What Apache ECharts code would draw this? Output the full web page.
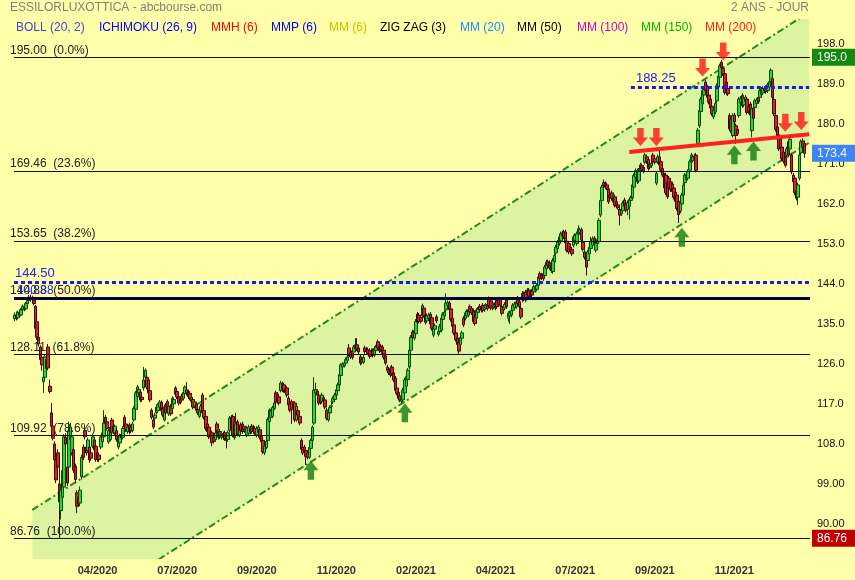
<!DOCTYPE html>
<html><head><meta charset="utf-8">
<script src="https://cdn.jsdelivr.net/npm/echarts@6/dist/echarts.min.js"></script>
<style>html,body{margin:0;padding:0;background:#FFFFAA}#c{width:855px;height:580px}</style>
</head><body><div id="c"></div>
<script>
// [open, close, low, high]
const seg1 = [
[136.2,137.0,135.6,137.6],[137.0,136.4,135.8,137.8],[136.4,137.6,136.0,138.0],[137.5,137.0,136.5,137.9],[137.0,138.2,136.7,138.6],[138.2,139.0,137.8,139.4],[138.8,138.4,137.9,139.2],[138.4,139.6,138.1,140.0],[139.6,140.3,139.2,140.8],[140.3,141.0,139.9,141.5],
[141.0,140.6,140.0,141.6],[140.6,140.9,140.1,141.4],[140.4,139.6,139.2,140.8],[139.0,134.0,133.6,139.3],[135.5,132.0,131.4,135.8],[132.0,130.5,129.9,132.5],[129.8,127.0,126.5,130.2],[127.5,125.8,124.5,127.9],[122.0,123.0,119.5,123.6],[123.0,127.6,122.6,128.0],
[125.0,127.0,124.6,127.6],[129.8,125.1,124.6,130.5],[121.0,119.8,119.3,122.5],[115.0,112.0,111.5,117.2],[112.0,109.3,108.8,112.6],[108.0,104.4,103.8,108.6],[104.4,99.9,99.2,105.0],[106.0,102.8,101.0,106.8],[99.0,95.0,86.8,103.0],[93.0,97.6,91.0,98.2],
[96.0,102.0,94.5,104.0],[98.3,109.6,97.5,110.2],[109.5,108.0,107.2,110.4],[102.8,99.2,98.5,103.6],[102.8,111.0,102.0,113.0],[109.0,111.8,108.4,112.8],[106.0,109.6,105.4,110.2],[106.7,102.1,101.5,107.2],[103.0,100.0,99.2,103.6],[97.0,94.0,92.5,97.6],
[96.0,94.5,93.8,96.8],[94.7,97.6,94.0,98.4],[100.6,105.0,100.0,105.6],[107.3,105.0,104.4,107.9],[111.0,109.6,109.0,112.0],[107.3,106.0,105.4,107.8],[106.5,108.9,106.0,109.4],[107.3,104.4,103.8,107.8],[106.0,104.8,104.2,106.6],[107.5,109.6,107.0,110.2],
[108.9,106.7,106.2,109.4],[107.5,104.5,104.0,108.0],[106.0,104.6,104.0,106.5],[105.5,104.5,103.9,106.0],[107.3,109.6,106.8,110.0],[108.5,110.5,108.0,111.0],[109.6,112.7,109.2,115.6],[114.0,112.7,112.2,114.5],[113.0,111.5,111.0,113.5],[108.5,111.0,108.0,111.4],
[109.0,111.8,108.6,112.3],[113.4,110.5,110.0,113.9],[112.0,110.8,110.2,112.5],[110.5,112.0,110.0,112.4],[111.0,109.0,108.5,111.5],[107.3,108.9,106.8,109.3],[108.2,109.8,107.8,110.3],[110.2,109.4,108.9,110.8],[109.5,111.5,109.0,112.0],[114.0,111.8,111.3,114.5],
[112.5,111.2,110.7,113.0],[110.8,111.8,110.3,112.2],[112.3,110.7,110.2,112.8],[111.8,110.9,110.4,112.3],[111.0,112.5,110.6,113.0],[113.4,116.0,113.0,116.5],[115.8,119.5,115.3,119.9],[118.6,120.8,118.2,121.3],[119.5,120.3,119.0,120.9],[119.7,117.9,117.4,120.2],
[118.5,118.0,117.5,119.0],[120.6,122.4,120.0,125.3],[123.0,124.6,122.6,125.0],[123.0,120.8,120.3,123.5],[122.4,119.5,119.0,122.8],[120.0,117.9,117.4,120.5],[115.6,114.0,113.5,116.0],[113.4,111.8,111.3,113.9],[113.8,114.5,113.2,115.0],[115.0,116.3,114.6,116.8],
[115.5,116.8,115.0,117.2],[116.3,117.4,115.9,117.9],[117.4,115.5,115.0,117.8],[116.0,114.5,114.0,116.5],[113.4,116.3,113.0,116.7],[116.8,115.0,114.5,117.2],[117.5,115.2,114.8,118.0],[114.8,116.5,114.3,117.0],[116.5,114.8,114.3,117.0],[116.0,118.3,115.6,118.7]
];
const seg2 = [
[117.0,118.0,116.6,118.5],[120.6,119.2,118.7,121.0],[119.8,118.6,118.1,120.3],[118.6,117.2,116.7,119.1],[118.2,117.4,116.9,118.7],[118.8,117.9,117.4,119.3],[118.3,119.6,117.8,120.0],[119.3,120.8,118.9,121.2],[120.2,119.4,118.9,121.9],[119.7,118.6,118.1,120.2],
[119.4,118.3,117.8,119.9],[117.5,118.4,117.0,118.9],[118.0,116.3,115.8,118.5],[116.5,117.5,116.0,117.9],[117.0,115.6,115.1,117.5],[115.8,115.0,114.5,116.3],[114.2,115.6,113.8,116.0],[115.4,116.5,115.0,117.0],[119.0,115.0,114.5,119.5],[115.5,114.0,113.5,116.0],
[114.2,111.5,111.0,114.6],[112.5,110.8,110.3,113.0],[111.8,109.6,109.1,112.3],[110.2,109.5,109.0,110.7],[110.5,108.3,107.5,111.0],[109.5,108.6,108.1,110.0],[109.0,110.5,108.6,111.0],[112.5,111.0,110.5,113.0],[109.5,111.2,109.0,111.7],[110.8,109.6,109.1,111.3],
[109.5,110.2,109.0,110.7],[109.4,110.3,108.9,110.8],[110.5,109.2,108.7,111.0],[110.0,108.8,107.0,110.5],[109.0,110.5,108.5,111.0],[111.0,113.8,110.6,114.3],[114.0,111.2,110.7,114.5],[114.2,110.0,109.5,114.6],[113.0,109.5,109.0,113.4],[110.0,112.5,109.5,115.0],
[113.0,110.2,109.7,113.5],[110.0,111.0,109.5,111.5],[112.3,111.0,110.5,112.8],[112.5,110.8,110.3,113.0],[112.0,111.2,110.7,112.5],[110.6,111.5,110.1,112.0],[110.0,111.5,109.5,112.0],[110.4,111.8,110.0,112.3],[111.5,110.7,110.2,112.0],[112.0,110.8,110.3,112.5],
[111.8,110.8,110.3,112.3],[111.5,110.5,110.0,112.0],[110.0,111.5,109.5,112.0],[110.6,111.8,110.1,112.3],[111.2,109.5,109.0,111.7],[109.8,108.5,108.0,110.3],[108.8,106.2,105.7,109.2],[106.0,107.5,105.5,108.0],[107.2,108.6,106.8,109.0],[108.8,113.5,108.4,114.0],
[113.0,115.6,112.6,116.0],[114.0,115.4,113.5,115.9],[114.2,116.2,113.8,116.6],[116.0,117.2,115.6,117.6],[119.5,117.4,116.9,120.0],[119.2,117.6,117.1,119.7],[118.6,117.2,116.7,119.0],[120.0,121.7,119.6,122.2],[121.5,120.2,119.7,122.0],[121.3,120.0,119.5,121.8],
[120.4,119.6,119.1,120.9],[120.6,119.0,118.5,121.0],[118.3,116.8,116.3,118.8],[117.0,115.6,115.1,117.5],[117.5,115.8,112.5,118.0],[117.0,116.0,115.5,117.5],[117.2,113.4,112.9,117.6],[113.4,116.5,113.0,117.0],[115.5,114.5,114.0,116.0],[114.2,112.7,112.2,114.7],
[108.8,106.8,106.3,109.3],[107.2,106.0,105.5,107.7],[107.3,106.2,105.7,107.8],[106.5,105.2,103.3,107.0],[106.0,105.0,104.5,106.5],[105.0,107.2,104.6,107.6],[107.0,108.8,106.6,109.2],[108.8,111.8,108.4,112.2],[112.7,120.1,112.3,123.0],[119.5,120.3,119.0,121.8],
[119.8,119.0,118.5,120.3],[119.0,117.2,116.7,119.5],[118.5,117.4,116.9,119.0],[117.5,119.0,117.0,119.5],[118.4,117.6,117.1,118.9],[117.9,116.3,115.8,118.4],[115.6,113.8,113.3,116.1],[113.4,115.2,113.0,115.7],[115.0,116.2,114.6,116.7],[116.5,116.6,115.0,117.6]
];
const seg3 = [
[117.5,118.2,117.0,118.7],[118.0,119.0,117.6,119.5],[119.0,120.2,118.6,120.7],[120.0,121.3,119.6,121.8],[121.3,123.6,120.9,124.0],[123.4,125.8,123.0,126.2],[125.3,126.0,124.9,126.5],[125.6,126.2,125.2,126.7],[126.2,127.0,125.8,127.5],[126.8,127.6,126.4,128.1],
[129.6,128.2,127.7,130.5],[128.6,127.6,127.1,129.1],[129.0,127.5,127.0,129.5],[128.7,129.8,128.3,130.3],[129.4,130.3,129.0,131.8],[130.3,129.4,128.9,131.8],[129.6,128.7,128.2,130.1],[127.6,126.2,125.7,128.1],[127.0,126.4,125.9,127.5],[126.4,127.5,126.0,128.0],
[129.6,128.8,128.3,130.1],[129.3,128.8,128.3,129.8],[129.2,128.5,128.0,129.7],[129.0,127.7,127.2,129.5],[128.7,129.0,128.2,129.5],[129.0,128.0,127.5,129.5],[128.0,129.5,127.6,130.0],[129.0,129.8,128.6,130.3],[131.0,129.6,129.1,131.5],[130.0,129.0,128.5,130.5],
[130.0,129.2,128.7,130.5],[129.8,128.4,127.9,130.3],[129.1,127.5,127.0,129.6],[127.8,126.2,125.7,128.3],[125.3,124.5,124.0,125.8],[124.8,124.0,123.5,125.3],[125.0,123.5,123.0,125.5],[125.3,123.8,123.3,125.8],[124.0,122.4,121.9,124.5],[122.8,120.1,119.6,123.3],
[120.6,119.4,118.9,121.1],[119.6,118.3,117.8,120.1],[118.8,117.9,117.4,119.3],[117.6,118.6,117.1,119.1],[117.9,120.1,117.4,120.6],[119.5,122.4,119.0,122.9],[121.0,123.2,120.5,123.7],[122.5,124.6,122.0,125.1],[125.3,129.1,124.8,129.6],[129.1,132.0,128.6,132.5],
[133.2,132.0,131.5,133.7],[131.8,133.5,131.3,134.0],[132.8,135.6,132.3,136.1],[137.2,135.4,134.9,137.7],[137.0,135.6,135.1,137.5],[136.5,135.6,135.1,137.0],[136.9,139.1,136.4,139.6],[138.6,136.9,136.4,139.1],[137.0,135.4,134.9,137.5],[135.7,136.9,135.2,137.4],
[136.2,137.0,135.7,137.5],[137.2,135.0,134.5,137.7],[136.4,134.0,133.5,136.9],[132.5,134.4,132.0,134.9],[133.8,134.6,133.3,135.1],[136.6,135.7,135.2,137.1],[132.7,133.3,132.2,133.8],[133.3,134.5,132.8,135.0],[133.6,136.3,133.1,136.8],[136.0,137.2,135.5,137.7],
[136.8,137.6,136.3,138.1],[138.2,139.7,137.7,141.9],[139.2,139.8,138.7,140.3],[139.7,138.2,137.7,140.2],[138.4,136.0,135.5,138.9],[136.3,134.5,134.0,136.8],[134.8,133.0,132.5,135.3],[133.0,131.5,131.0,133.5],[131.8,130.4,129.9,132.3],[130.8,128.9,128.2,131.3],
[130.4,132.0,129.9,132.5],[131.8,133.0,131.3,133.5],[136.3,134.8,134.3,136.8],[136.3,137.5,135.8,138.0],[136.8,137.8,136.3,138.3],[137.0,138.2,136.5,138.7],[138.9,137.7,137.2,139.4],[138.5,137.5,137.0,139.0],[138.0,135.5,135.0,138.5],[136.6,135.1,134.6,137.1],
[136.3,138.1,135.8,138.6],[137.6,138.3,137.1,138.8],[139.0,138.2,137.7,139.5],[138.8,138.1,137.6,139.3],[139.2,138.1,137.6,139.7],[138.2,138.9,137.7,139.4],[138.6,139.2,138.1,139.7],[139.4,138.5,138.0,139.9],[140.7,139.2,138.7,141.2],[140.2,138.6,138.1,140.7]
];
const seg4 = [
[138.6,139.2,138.1,139.7],[138.8,139.3,138.3,139.8],[139.8,138.6,138.1,140.3],[140.3,138.9,138.4,140.8],[140.6,139.4,138.9,141.1],[140.5,139.2,138.7,141.0],[138.9,137.4,136.9,139.4],[138.2,138.9,137.7,139.4],[138.6,139.4,138.1,139.9],[140.4,138.9,138.4,140.9],
[136.3,137.4,135.5,137.9],[136.8,137.5,135.0,138.0],[137.0,138.0,136.5,138.5],[138.1,139.2,137.6,139.7],[138.6,139.5,138.1,140.0],[138.9,140.0,138.4,140.5],[140.4,139.6,139.1,141.3],[140.0,138.9,138.4,140.5],[138.5,136.6,136.1,139.0],[140.4,141.9,139.9,142.4],
[141.8,140.6,140.1,142.3],[142.2,140.4,139.9,142.7],[141.5,142.6,141.0,143.1],[142.6,141.2,140.7,143.1],[142.2,141.3,140.8,142.7],[142.4,141.5,141.0,142.9],[142.2,143.4,141.7,143.9],[142.6,143.2,142.1,143.7],[142.8,143.7,142.3,144.2],[143.7,145.6,143.2,146.1],
[146.3,145.2,144.7,146.8],[146.0,145.4,144.9,146.5],[146.3,145.2,144.7,146.8],[145.9,147.8,145.4,148.3],[147.4,148.9,146.9,149.4],[149.0,148.2,147.7,149.5],[148.8,147.6,147.1,149.3],[147.8,147.0,146.5,148.3],[146.8,149.3,146.3,149.8],[149.0,150.4,148.5,150.9],
[151.0,152.3,150.5,152.8],[152.0,153.4,151.5,153.9],[153.1,154.6,152.6,155.1],[153.7,155.3,153.2,155.8],[154.8,155.5,154.3,156.0],[155.7,154.6,154.1,156.2],[155.7,153.2,152.7,156.2],[153.6,151.6,151.1,154.1],[153.1,151.2,150.7,153.6],[152.3,151.4,150.9,152.8],
[151.8,150.8,150.3,152.3],[152.7,154.6,152.2,155.1],[153.8,154.9,153.3,155.4],[153.1,155.3,152.6,155.8],[155.3,156.4,154.8,157.2],[155.6,156.2,155.1,156.7],[156.2,153.9,153.4,156.7],[153.4,151.8,151.3,153.9],[151.2,150.0,149.5,151.7],[150.0,147.8,145.9,150.5],
[149.3,151.2,148.8,151.7],[150.8,152.3,150.3,152.8],[152.0,153.5,151.5,154.6],[152.7,154.2,152.2,154.7],[154.3,153.6,153.1,154.8],[151.6,153.1,151.1,153.6],[153.1,154.0,152.6,154.5],[153.5,158.3,153.0,158.8],[159.5,162.8,159.0,163.3],[162.8,165.8,162.3,166.3],
[166.8,166.1,165.6,167.5],[166.6,165.8,165.3,167.1],[166.3,165.6,165.1,166.8],[165.4,162.5,162.0,165.9],[164.0,163.4,162.9,164.5],[164.5,163.2,162.7,165.0],[162.4,164.0,161.9,164.5],[163.6,161.7,161.2,164.1],[162.5,161.5,161.0,163.0],[161.8,161.2,160.7,162.3],
[160.8,159.5,157.2,161.3],[159.8,160.6,159.3,161.1],[160.5,162.2,160.0,162.7],[162.9,161.5,161.0,163.4],[162.0,160.6,160.1,162.5],[160.8,162.3,159.5,162.8],[161.5,163.0,158.5,163.5],[162.8,163.4,162.3,163.9],[163.4,166.3,162.9,166.8],[165.8,168.4,165.3,168.9],
[168.0,169.5,167.5,170.0],[169.5,167.0,166.5,170.0],[167.2,169.6,166.7,170.1],[169.6,170.8,169.1,171.3],[170.6,169.8,169.3,171.1],[170.2,169.4,168.9,170.7],[171.4,173.0,170.9,173.5],[172.6,171.5,171.0,173.1],[172.0,170.0,169.5,172.5],[171.0,170.3,169.8,171.9]
];
const seg5 = [
[170.6,171.2,170.1,171.7],[173.0,171.5,171.0,173.5],[172.2,171.4,170.9,172.7],[166.7,168.9,166.2,169.4],[171.5,172.6,171.0,173.1],[172.6,170.8,170.3,174.1],[171.5,169.6,169.1,172.0],[170.0,168.5,168.0,170.5],[168.5,165.6,165.1,169.0],[168.5,164.5,164.0,169.0],
[167.0,163.6,163.1,167.5],[167.8,165.6,165.1,168.3],[167.0,165.2,164.7,167.5],[166.5,164.8,164.3,167.0],[165.6,163.5,163.0,166.1],[164.6,162.6,162.1,165.1],[164.0,161.0,160.5,164.5],[162.6,159.6,157.7,163.1],[160.4,162.5,159.9,163.0],[162.0,164.0,161.5,164.5],
[164.0,166.3,163.5,166.8],[166.8,168.5,166.3,169.0],[167.5,168.6,167.0,169.1],[167.8,169.3,167.3,169.8],[169.6,171.5,169.1,172.0],[171.5,173.0,171.0,173.5],[171.8,172.6,171.3,173.1],[172.0,172.8,171.5,173.3],[173.0,169.6,169.1,173.5],[175.6,178.6,175.1,179.1],
[179.6,183.0,179.1,183.5],[182.8,185.6,182.3,186.1],[184.5,187.5,184.0,188.0],[186.5,187.8,186.0,188.3],[189.4,187.5,187.0,189.9],[188.3,186.0,185.5,188.8],[186.5,184.9,184.4,187.0],[185.6,183.6,183.1,186.1],[184.0,182.3,181.8,184.5],[181.6,183.1,181.1,183.6],
[182.7,184.6,182.2,185.1],[185.2,188.6,184.7,189.1],[188.3,190.8,187.8,191.3],[190.5,193.1,190.0,193.6],[193.9,192.7,192.2,194.4],[192.5,191.3,190.8,193.0],[191.3,187.1,186.6,191.8],[189.4,187.0,186.5,189.9],[188.0,186.8,186.3,188.5],[181.9,178.9,178.4,182.4],
[181.1,178.5,178.0,181.6],[177.4,181.9,176.9,182.4],[182.0,180.5,180.0,182.5],[179.6,177.4,175.5,180.1],[178.8,177.8,177.3,179.3],[181.9,185.6,181.4,186.1],[184.8,185.8,184.3,186.3],[186.4,184.1,183.6,186.9],[184.3,185.8,183.8,186.3],[185.0,186.0,184.5,186.5],
[185.6,182.6,182.1,186.1],[184.0,182.8,182.3,184.5],[184.5,182.0,181.5,185.0],[178.5,183.4,177.0,183.9],[183.6,181.3,180.8,184.1],[183.7,185.2,183.2,185.7],[184.6,185.4,184.1,185.9],[186.0,185.0,184.5,186.5],[186.0,187.5,185.5,188.0],[186.6,187.8,186.1,188.3],
[187.0,188.0,186.5,188.5],[188.0,187.5,187.0,188.5],[188.2,187.3,186.8,188.7],[187.5,188.8,187.0,189.3],[188.3,189.5,187.8,190.0],[189.5,192.1,189.0,192.5],[190.2,186.0,185.5,190.7],[185.5,182.3,181.8,186.0],[181.9,178.8,178.3,182.4],[179.3,176.6,176.1,179.8],
[177.5,174.4,173.9,178.0],[176.6,174.6,174.1,177.1],[174.8,172.2,171.7,175.3],[173.7,171.6,171.1,174.2],[172.4,170.7,170.2,172.9],[173.0,174.4,172.5,174.9],[176.0,173.0,172.5,176.5],[174.4,176.6,173.9,177.1],[173.0,169.2,168.7,173.5],[168.5,167.0,166.5,169.0],
[167.8,164.5,164.0,168.3],[165.0,163.3,162.8,165.5],[163.5,166.3,161.8,166.8],[167.8,173.0,167.3,173.5],[173.5,176.0,173.0,176.5],[176.2,174.8,174.3,176.8],[175.6,173.4,172.4,176.1]
];
const ohlc = [].concat(seg1, seg2, seg3, seg4, seg5);

const slotCount = 500; // trading-day slots on the time axis (last few empty)
const categories = Array.from({length: slotCount}, (_, i) => 'J' + i);
const tickIndex = [52, 102, 152, 202, 252, 302, 352, 402, 452];
const tickLabels = ['04/2020','07/2020','09/2020','11/2020','02/2021','04/2021','07/2021','09/2021','11/2021'];
const yTicks = [90, 99, 108, 117, 126, 135, 144, 153, 162, 171, 180, 189, 198];

const fibLevels = [195.00, 169.46, 153.65, 140.88, 128.11, 109.92, 86.76];
const fibPct = ['0.0%', '23.6%', '38.2%', '50.0%', '61.8%', '78.6%', '100.0%'];
const blueLevelLow = 144.50;
const blueLevelHigh = 188.25;
const blueLevelHighStart = 387;

const channelLower = [[11, 63.8], [499, 175.8]];
const channelWidth = [[11, 29.35], [499, 29.35]];
const resistance = [[386, 173.7], [499, 177.7]];
const redArrows = [[393, 177.1], [403, 177.1], [432, 192.7], [445, 196.3], [484, 180.3], [494, 180.7]];
const greenArrows = [[186, 102.1], [245, 115.0], [419, 154.5], [452, 173.1], [464, 173.9]];

const legendItems = [
  ['BOLL (20, 2)', '#4545c8', 16], ['ICHIMOKU (26, 9)', '#0000ff', 99], ['MMH (6)', '#ff0000', 211],
  ['MMP (6)', '#0000ee', 271], ['MM (6)', '#c4c400', 329], ['ZIG ZAG (3)', '#000000', 380],
  ['MM (20)', '#1e8cff', 460], ['MM (50)', '#000000', 517], ['MM (100)', '#cc00cc', 577],
  ['MM (150)', '#00b400', 641], ['MM (200)', '#ff1a1a', 705]
];

const FONT = '"Liberation Sans", Arial, sans-serif';
const lastClose = ohlc[ohlc.length - 1][1];

const fibLines = fibLevels.map((v, k) => ({
  yAxis: v,
  lineStyle: {color: '#111', width: 1, type: 'solid'},
  label: {show: true, position: 'insideStartTop', distance: [-4, 1], formatter: v.toFixed(2) + '  (' + fibPct[k] + ')',
          color: '#222', fontSize: 12, fontFamily: FONT}
}));
const boxLabel = (v, txt, bg) => ({
  yAxis: v,
  lineStyle: {color: 'rgba(0,0,0,0)', width: 0},
  label: {show: true, position: 'end', distance: 2, formatter: txt, backgroundColor: bg, color: '#ffffff', opacity: 1,
          fontSize: 12, fontFamily: FONT, padding: [2, 5, 2, 5], width: 34, lineHeight: 13}
});

const chart = echarts.init(document.getElementById('c'), null, {renderer: 'canvas'});
chart.setOption({
  animation: false,
  backgroundColor: '#FFFFAA',
  grid: {left: 14, right: 45, top: 20, bottom: 22},
  xAxis: {
    type: 'category', data: categories, boundaryGap: true,
    axisLine: {show: false}, axisTick: {show: false}, splitLine: {show: false},
    axisLabel: {
      interval: (idx) => tickIndex.indexOf(idx) >= 0,
      formatter: (val, idx) => tickLabels[tickIndex.indexOf(idx)] || '',
      color: '#333', fontSize: 11, fontWeight: 'bold', fontFamily: FONT, margin: 7
    }
  },
  yAxis: {
    type: 'value', position: 'right', min: 82.34, max: 203.4, scale: true,
    axisLine: {show: false}, axisTick: {show: false}, splitLine: {show: false},
    axisLabel: {
      customValues: yTicks,
      formatter: (v) => v >= 100 ? v.toFixed(1) : v.toFixed(2),
      color: '#111', fontSize: 11, fontFamily: FONT, margin: 7, padding: [0, 0, 4, 0]
    }
  },
  graphic: [
    {type: 'text', x: 10, y: 8, style: {text: 'ESSILORLUXOTTICA - abcbourse.com', fill: '#808080', font: '12px ' + FONT, verticalAlign: 'middle'}},
    {type: 'text', x: 809, y: 8, style: {text: '2 ANS - JOUR', fill: '#808080', font: '12px ' + FONT, verticalAlign: 'middle', align: 'right'}}
  ].concat(legendItems.map(it => ({type: 'text', x: it[2], y: 27.5,
    style: {text: it[0], fill: it[1], font: '12px ' + FONT, verticalAlign: 'middle'}}))),
  series: [
    {
      name: 'chanLow', type: 'line', stack: 'chan', data: channelLower, symbol: 'none', z: 1,
      lineStyle: {color: '#1f8a1f', width: 2, type: [7, 3, 2, 3]}, clip: true
    },
    {
      name: 'chanBand', type: 'line', stack: 'chan', data: channelWidth, symbol: 'none', z: 1,
      lineStyle: {color: '#1f8a1f', width: 2, type: [7, 3, 2, 3]},
      areaStyle: {color: '#DCF4A0', opacity: 1}, clip: true
    },
    {
      name: 'prix', type: 'candlestick', data: ohlc, z: 2, barWidth: 3,
      itemStyle: {color: '#22dd22', color0: '#e02020', borderColor: '#0b440b', borderColor0: '#3a0808', borderWidth: 1}
    },
    {
      name: 'niveaux', type: 'line', data: [], z: 3, silent: true,
      markLine: {
        symbol: 'none', silent: true, animation: false,
        data: fibLines.concat([
          {yAxis: 140.88, lineStyle: {color: '#000040', width: 3, type: 'solid'},
           label: {show: true, position: 'insideStartTop', distance: [3, 1], formatter: '140.88', color: '#2222ee', fontSize: 12, fontFamily: FONT}},
          {yAxis: blueLevelLow, lineStyle: {color: '#1a1aee', width: 3, type: [4, 3]},
           label: {show: true, position: 'insideStartTop', distance: [1, 2], formatter: blueLevelLow.toFixed(2), color: '#2222ee', fontSize: 13, fontFamily: FONT}},
          [{coord: [blueLevelHighStart, blueLevelHigh], lineStyle: {color: '#1a1aee', width: 3, type: [4, 3]},
            label: {show: true, position: 'insideStartTop', distance: [5, 2], formatter: blueLevelHigh.toFixed(2), color: '#2222ee', fontSize: 13, fontFamily: FONT}},
           {coord: [slotCount - 1, blueLevelHigh]}]
        ])
      }
    },
    {
      name: 'cadres', type: 'line', data: [], z: 6, silent: true,
      markLine: {
        symbol: 'none', silent: true, animation: false,
        data: [
          boxLabel(195.0, '195.0', '#128a12'),
          boxLabel(lastClose, lastClose.toFixed(1), '#3d84f5'),
          boxLabel(86.76, '86.76', '#c00000')
        ]
      }
    },
    {
      name: 'resistance', type: 'line', data: resistance, symbol: 'none', z: 4,
      lineStyle: {color: '#ff2020', width: 4}
    },
    {
      name: 'baisse', type: 'scatter', data: redArrows, z: 5,
      symbol: 'path://M4,0 L10,0 L10,9 L14,9 L7,17 L0,9 L4,9 Z', symbolSize: [15, 18],
      itemStyle: {color: '#ff1414'}
    },
    {
      name: 'hausse', type: 'scatter', data: greenArrows, z: 5,
      symbol: 'path://M7,0 L14,9 L10,9 L10,18 L4,18 L4,9 L0,9 Z', symbolSize: [15, 19],
      itemStyle: {color: '#0e7a0e'}
    }
  ]
});
</script></body></html>
